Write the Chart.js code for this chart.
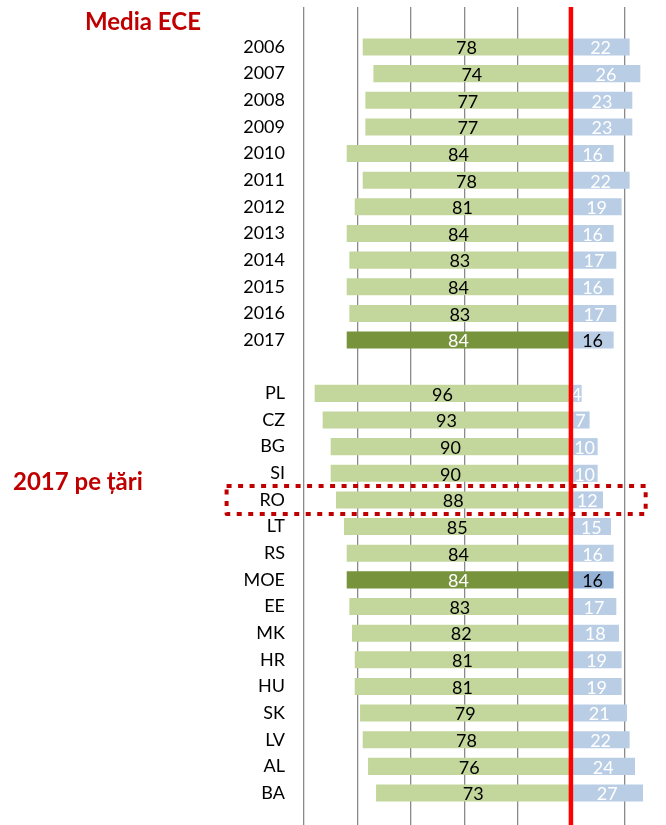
<!DOCTYPE html>
<html>
<head>
<meta charset="utf-8">
<script src="https://cdn.jsdelivr.net/npm/chart.js@4.4.1/dist/chart.umd.min.js"></script>
<style>
  html, body { margin: 0; padding: 0; background: #fff; overflow: hidden; }
  #wrap { position: relative; width: 666px; height: 833px; }
  .ttl { position: absolute; font-family: Lato, sans-serif; font-weight: bold; font-size: 24px; color: #C00000; line-height: 24px; white-space: nowrap; }
</style>
</head>
<body>
<div id="wrap">
  <canvas id="myChart" width="666" height="833"></canvas>
  <div class="ttl" style="left:85px; top:9px;">Media ECE</div>
  <div class="ttl" style="left:13px; top:469px;">2017 pe țări</div>
</div>
<script>
// categories: years first, an empty gap row, then countries
const years = ['2006', '2007', '2008', '2009', '2010', '2011', '2012', '2013', '2014', '2015', '2016', '2017']
const countries = ['PL', 'CZ', 'BG', 'SI', 'RO', 'LT', 'RS', 'MOE', 'EE', 'MK', 'HR', 'HU', 'SK', 'LV', 'AL', 'BA']

// green share (drawn to the left) and blue share (to the right)
const greenYears = [78, 74, 77, 77, 84, 78, 81, 84, 83, 84, 83, 84]
const blueYears = [22, 26, 23, 23, 16, 22, 19, 16, 17, 16, 17, 16]
const greenCountries = [96, 93, 90, 90, 88, 85, 84, 84, 83, 82, 81, 81, 79, 78, 76, 73]
const blueCountries = [4, 7, 10, 10, 12, 15, 16, 16, 17, 18, 19, 19, 21, 22, 24, 27]

const highlighted = ['2017', 'MOE']
const boxed = 'RO'

const labels = [''].concat(years, [''], countries, [''])
const green = [null].concat(greenYears.map(v => -v), [null], greenCountries.map(v => -v), [null])
const blue = [null].concat(blueYears, [null], blueCountries, [null])

const font = { family: 'Lato, sans-serif', size: 18 }

const greenColors = labels.map(l => highlighted.includes(l) ? '#77933C' : '#C3D69B')
const blueColors = labels.map(l => l === 'MOE' ? '#95B3D7' : '#B9CDE5')
const greenText = labels.map(l => highlighted.includes(l) ? '#ffffff' : '#000000')
const blueText = labels.map(l => highlighted.includes(l) ? '#000000' : '#ffffff')

// value labels in the middle of each bar, red zero line, dotted box
const extras = {
  id: 'extras',
  afterDatasetsDraw(chart) {
    const { ctx, chartArea, scales } = chart
    ctx.save()
    ctx.font = font.size + 'px ' + font.family
    ctx.textAlign = 'center'
    ctx.textBaseline = 'middle'
    chart.data.datasets.forEach((ds, di) => {
      chart.getDatasetMeta(di).data.forEach((bar, i) => {
        const v = ds.data[i]
        if (v === null) return
        ctx.fillStyle = di === 0 ? greenText[i] : blueText[i]
        ctx.fillText(Math.abs(v), (bar.x + bar.base) / 2, bar.y + 1.5)
      })
    })

    const x0 = scales.x.getPixelForValue(0)
    ctx.strokeStyle = '#FF0000'
    ctx.lineWidth = 4.5
    ctx.beginPath()
    ctx.moveTo(x0, chartArea.top)
    ctx.lineTo(x0, chartArea.bottom)
    ctx.stroke()

    const yRo = scales.y.getPixelForValue(labels.indexOf(boxed))
    const left = scales.x.getPixelForValue(-129)
    const right = scales.x.getPixelForValue(28)
    ctx.strokeStyle = '#C00000'
    ctx.lineWidth = 4
    ctx.setLineDash([5, 6.5])
    ctx.lineJoin = 'round'
    ctx.strokeRect(left, yRo - 14, right - left, 28)
    ctx.restore()
  }
}

const ctx = document.getElementById('myChart')
const myChart = new Chart(ctx, {
  type: 'bar',
  data: {
    labels: labels,
    datasets: [
      { data: green, backgroundColor: greenColors, categoryPercentage: 1, barPercentage: 0.64 },
      { data: blue, backgroundColor: blueColors, categoryPercentage: 1, barPercentage: 0.64 }
    ]
  },
  options: {
    indexAxis: 'y',
    responsive: false,
    animation: false,
    layout: { padding: { top: 7, right: 15, bottom: 0, left: 0 } },
    plugins: {
      legend: { display: false },
      tooltip: { enabled: false }
    },
    scales: {
      x: {
        stacked: true,
        min: -100,
        max: 30,
        ticks: { stepSize: 20, display: false },
        border: { display: false },
        grid: {
          drawTicks: false,
          lineWidth: 1.3,
          color: (c) => (c.tick && c.tick.value !== 0 && c.tick.value % 20 === 0) ? '#8a8a8a' : 'rgba(0,0,0,0)'
        }
      },
      y: {
        stacked: true,
        grid: { display: false, drawTicks: false },
        border: { display: false },
        ticks: { color: '#000', font: font, padding: 19, autoSkip: false },
        afterFit: (s) => {
          s.width = 304
          s.paddingTop = 0
          s.paddingBottom = 0
        }
      }
    }
  },
  plugins: [extras]
})
</script>
</body>
</html>
